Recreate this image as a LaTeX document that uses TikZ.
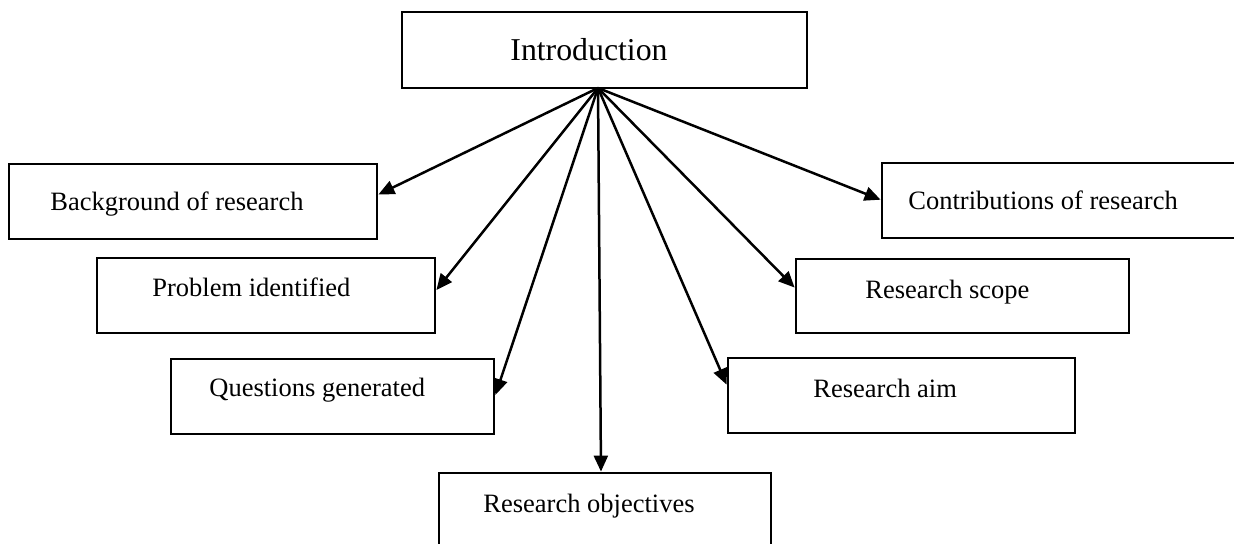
\documentclass[tikz,border=0pt]{standalone}
\usepackage{fontspec}
\setmainfont{Liberation Serif}
\usetikzlibrary{arrows.meta,calc}

\begin{document}
\begin{tikzpicture}[x=0.5pt,y=-0.5pt,
  box/.style={draw=black,line width=1.4pt,inner sep=0pt,fill=white},
  txt/.style={anchor=base west,inner sep=0pt,font=\fontsize{13.25}{16}\selectfont},
  link/.style={line width=1.25pt,-{Triangle[length=8pt,width=7pt]}}]
\useasboundingbox (0,0) rectangle (1234,544);
\clip (0,0) rectangle (1234,544);

% boxes
\node[box,minimum width=202.5pt,minimum height=38pt] (intro) at (604.5,50) {};
\node[box,minimum width=184pt,minimum height=37.5pt] (bg) at (193,201.5) {};
\node[box,minimum width=169pt,minimum height=37.5pt] (pi) at (266,295.5) {};
\node[box,minimum width=161.5pt,minimum height=37.5pt] (qg) at (332.5,396.5) {};
\node[box,minimum width=166pt,minimum height=43.5pt] (ro) at (605,516.5) {};
\node[box,minimum width=173.5pt,minimum height=37.5pt] (ra) at (901.5,395.5) {};
\node[box,minimum width=166.5pt,minimum height=37pt] (rs) at (962.5,296) {};
\node[box,minimum width=184pt,minimum height=37.5pt] (cr) at (1066,200.5) {};

% labels
\node[txt,font=\fontsize{15.9}{19}\selectfont] (tintro) at (510,61) {Introduction};
\node[txt] (tbg) at (50,211) {Background of research};
\node[txt] (tpi) at (152,297) {Problem identified};
\node[txt] (tqg) at (209,396) {Questions generated};
\node[txt] (tro) at (483,512) {Research objectives};
\node[txt] (tra) at (813,397) {Research aim};
\node[txt] (trs) at (865,299) {Research scope};
\node[txt] (tcr) at (908,210) {Contributions of research};

% connectors fanning out from the bottom of the top box
\coordinate (hub) at (598,88);
\draw[link] (hub) -- ($(bg.north east)!0.41!(bg.south east)$);
\draw[link] (hub) -- ($(pi.north east)!0.43!(pi.south east)$);
\draw[link] (hub) -- ($(qg.north east)!0.48!(qg.south east)$);
\draw[link] (hub) -- ($(ro.north west)!0.488!(ro.north east)$);
\draw[link] (hub) -- ($(ra.north west)!0.36!(ra.south west)$);
\draw[link] (hub) -- ($(rs.north west)!0.39!(rs.south west)$);
\draw[link] (hub) -- ($(cr.north west)!0.49!(cr.south west)$);
\end{tikzpicture}
\end{document}
